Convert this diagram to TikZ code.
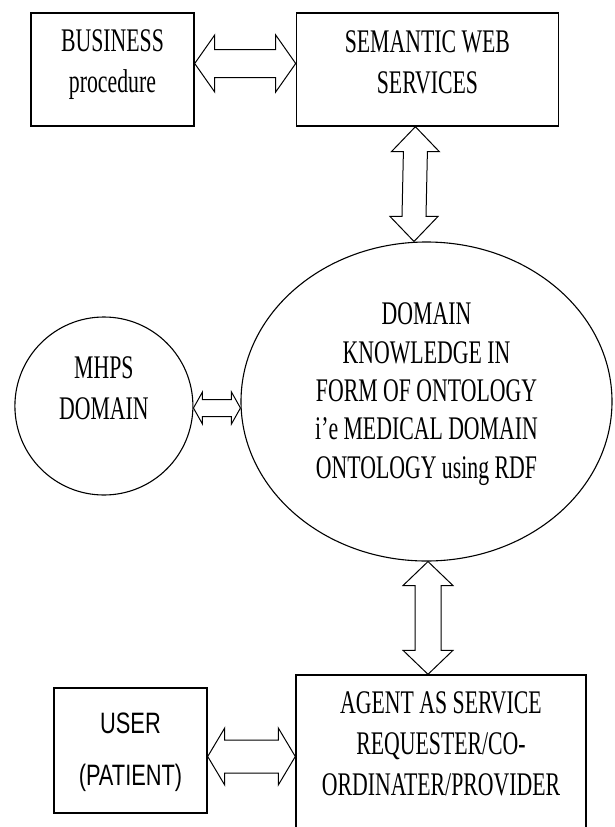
\documentclass[tikz,border=0pt]{standalone}
\usepackage{fontspec}
\setmainfont{Liberation Serif}[FakeStretch=0.66]
\newfontfamily\usersans{Liberation Sans}[FakeStretch=0.74]
\usetikzlibrary{shapes.geometric,positioning,calc}

% block arrow with a head at both ends: #1,#2 tips, #3 head length, #4 half head, #5 half shaft
\newcommand{\hblockarrow}[5]{%
  \draw[blockarrow] (#1) -- ++(#3,#4) -- ++(0,#5-#4) -- ($(#2)+(-#3,#5)$) -- ++(0,#4-#5)
    -- (#2) -- ++(-#3,-#4) -- ++(0,#4-#5) -- ($(#1)+(#3,-#5)$) -- ++(0,#5-#4) -- cycle;}
\newcommand{\vblockarrow}[5]{%
  \draw[blockarrow] (#1) -- ++(#4,-#3) -- ++(#5-#4,0) -- ($(#2)+(#5,#3)$) -- ++(#4-#5,0)
    -- (#2) -- ++(-#4,#3) -- ++(#4-#5,0) -- ($(#1)+(-#5,-#3)$) -- ++(#5-#4,0) -- cycle;}

\begin{document}
\begin{tikzpicture}[x=1pt, y=1pt,
  every node/.style={font=\fontsize{33}{41}\selectfont, align=center, inner sep=0pt},
  box/.style={draw, rectangle, line width=1.4pt},
  blob/.style={draw, line width=1.1pt},
  blockarrow/.style={draw, line width=1pt, line join=miter}]
\useasboundingbox (0,0) rectangle (614,-827);
\clip (0,0) rectangle (614,-827);

\node[box, minimum width=163pt, text height=79pt, text depth=34pt] (business) at (112.5,-69.5) {BUSINESS\\procedure};
\node[box, minimum width=262pt, text height=80pt, text depth=33pt] (semantic) [right=101pt of business] {SEMANTIC WEB\\SERVICES};
\node[blob, ellipse, minimum width=371pt, minimum height=319pt, text height=180pt, text depth=27pt,
  font=\fontsize{33}{38.3}\selectfont] (ontology) at (426.5,-401.5)
  {DOMAIN\\KNOWLEDGE IN\\FORM OF ONTOLOGY\\i'e MEDICAL DOMAIN\\ONTOLOGY using RDF};
\node[blob, circle, minimum size=178pt, text height=60pt, text depth=34pt] (mhps) [left=47pt of ontology, yshift=-4.5pt] {MHPS\\DOMAIN};
\node[box, minimum width=290pt, text height=120pt, text depth=80pt] (agent) at (441,-775)
  {AGENT AS SERVICE\\REQUESTER/CO-\\ORDINATER/PROVIDER};
\node[box, minimum width=153pt, text height=97pt, text depth=28pt,
  font=\usersans\fontsize{29.5}{52}\selectfont] (user) at (130.5,-750.5) {USER\\(PATIENT)};

% ends of the block arrows
\coordinate (bs1) at ([yshift=6pt]business.east);
\coordinate (bs2) at ([yshift=6pt]semantic.west);
\coordinate (so1) at ([xshift=-12pt]semantic.south);
\coordinate (so2) at ([xshift=-12.5pt]ontology.north);
\coordinate (mo1) at ([yshift=-2pt]mhps.east);
\coordinate (mo2) at ([yshift=-6.5pt]ontology.west);
\coordinate (oa1) at ([xshift=1.5pt]ontology.south);
\coordinate (oa2) at ([xshift=-13pt]agent.north);
\coordinate (ua1) at ([yshift=-6pt]user.east);
\coordinate (ua2) at (agent.west |- ua1);

\hblockarrow{bs1}{bs2}{20pt}{28.5pt}{14pt}
\vblockarrow{so1}{so2}{25pt}{24pt}{12pt}
\hblockarrow{mo1}{mo2}{9pt}{16pt}{8.5pt}
\vblockarrow{oa1}{oa2}{24pt}{25pt}{13pt}
\hblockarrow{ua1}{ua2}{17pt}{28.5pt}{16.5pt}
\end{tikzpicture}
\end{document}
